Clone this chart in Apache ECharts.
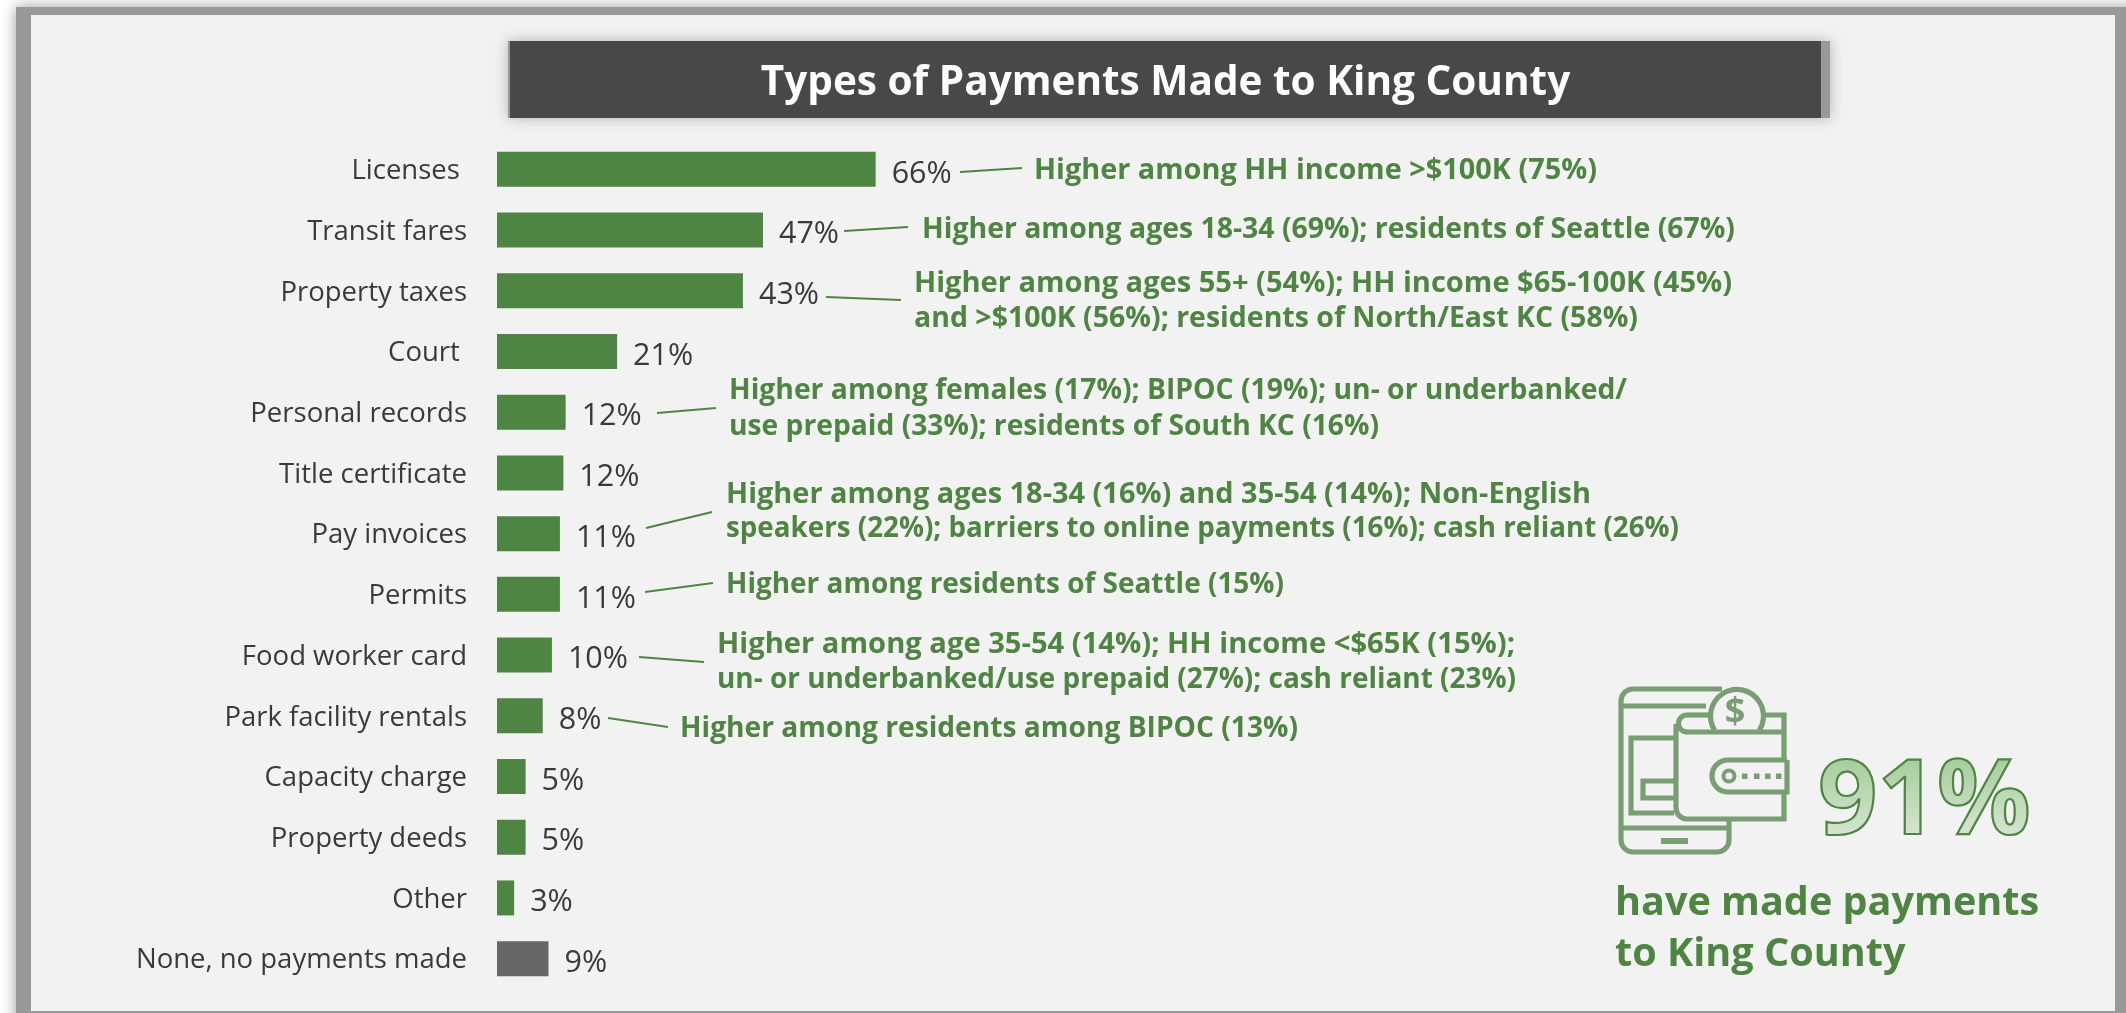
<!DOCTYPE html>
<html>
<head>
<meta charset="utf-8">
<title>Types of Payments Made to King County</title>
<style>html,body{margin:0;padding:0;background:#fff;overflow:hidden}#chart{width:2126px;height:1013px}</style>
<script src="https://cdn.jsdelivr.net/npm/echarts@6/dist/echarts.min.js"></script>
</head>
<body>
<div id="chart"></div>
<script>
const categories = ['Licenses ','Transit fares','Property taxes','Court ','Personal records','Title certificate','Pay invoices','Permits','Food worker card','Park facility rentals','Capacity charge','Property deeds','Other','None, no payments made'];
const values = [66.2,46.5,43,21,12,11.6,11,11,9.6,8,5,5,3,9];
const titleText = 'Types of Payments Made to King County';
const bigNumber = '91%';
const bigCaption = ['have made payments','to King County'];
const calloutLines = [
 'Higher among HH income >$100K (75%)',
 'Higher among ages 18-34 (69%); residents of Seattle (67%)',
 'Higher among ages 55+ (54%); HH income $65-100K (45%)',
 'and >$100K (56%); residents of North/East KC (58%)',
 'Higher among females (17%); BIPOC (19%); un- or underbanked/',
 'use prepaid (33%); residents of South KC (16%)',
 'Higher among ages 18-34 (16%) and 35-54 (14%); Non-English',
 'speakers (22%); barriers to online payments (16%); cash reliant (26%)',
 'Higher among residents of Seattle (15%)',
 'Higher among age 35-54 (14%); HH income <$65K (15%);',
 'un- or underbanked/use prepaid (27%); cash reliant (23%)',
 'Higher among residents among BIPOC (13%)'
];
const calloutAnchors = [[1034,179],[922,238],[914,292],[914,327],[729,399],[729,435],[726,503],[726,537],[726,593],[717,653],[717,688],[680,737]];
const calloutRightEdges = [1597,1735,1732,1638,1627,1379,1591,1679,1284,1515,1516,1298];
const leaders = [[960,172,1022,168],[844,231,908,227],[826,297,901,300],[657,413,716,408],[646,528,712,512],[645,592,713,583],[639,657,704,662],[608,718,668,727]];

const GREEN='#4E8542', ICON='#7A9E74', FONT='"Open Sans", "Noto Sans", sans-serif';
const meter=document.createElement('canvas').getContext('2d');
const g=[];
// frame
g.push({type:'rect',z:-10,shape:{x:16,y:7,width:2200,height:1100},style:{fill:'#999',shadowBlur:14,shadowColor:'#999'}});
g.push({type:'rect',z:-9,shape:{x:31,y:15,width:2084,height:996},style:{fill:'#f2f2f2'}});
// title band
g.push({type:'rect',z:-8,shape:{x:508,y:41,width:1322,height:77},style:{fill:'#999',shadowBlur:12,shadowColor:'rgba(150,150,150,.7)'}});
g.push({type:'rect',z:-7,shape:{x:510,y:41,width:1311,height:77},style:{fill:'#484848'}});
function txt(s,x,base,size,weight,fill,align,extra){
  return Object.assign({type:'text',z:5,x:x,y:base-0.28*size,style:Object.assign({text:s,font:weight+' '+size+'px '+FONT,fill:fill,align:align||'left',verticalAlign:'middle'},extra||{})});
}
g.push(txt(titleText,1165.5,95,40.5,700,'#fff','center'));
calloutLines.forEach((s,i)=>{
  const el=txt(s,calloutAnchors[i][0],calloutAnchors[i][1],28.5,700,GREEN);
  meter.font=el.style.font;
  el.scaleX=(calloutRightEdges[i]-calloutAnchors[i][0])/meter.measureText(s).width;
  g.push(el);
});
leaders.forEach(l=>g.push({type:'line',z:4,shape:{x1:l[0],y1:l[1],x2:l[2],y2:l[3]},style:{stroke:GREEN,lineWidth:2}}));
// big number: flat fill, a fade towards the panel colour, then the outline on top
g.push(txt(bigNumber,1818,833,104,700,'#A3CC98','left'));
g.push({type:'rect',z:6,shape:{x:1810,y:753,width:230,height:84},style:{fill:{type:'linear',x:0,y:0,x2:0,y2:1,colorStops:[{offset:0,color:'rgba(242,242,242,0)'},{offset:1,color:'rgba(242,242,242,0.65)'}]}}});
const outline=txt(bigNumber,1818,833,104,700,'rgba(0,0,0,0)','left',{stroke:GREEN,lineWidth:2.2});
outline.z=7; g.push(outline);
g.push(txt(bigCaption[0],1615,915,39.6,700,GREEN));
g.push(txt(bigCaption[1],1615,966,39.6,700,GREEN));
// icon
const st={stroke:ICON,lineWidth:5.2,fill:null};
const pl=(pts)=>({type:'polyline',shape:{points:pts},style:st});
const ar=(cx,cy,r,a,b)=>({type:'arc',shape:{cx:cx,cy:cy,r:r,startAngle:a*Math.PI,endAngle:b*Math.PI,clockwise:true},style:st});
const sq=(x,y,w,h)=>({type:'rect',shape:{x:x,y:y,width:w,height:h},style:{fill:ICON}});
g.push({type:'group',x:1609,y:680,z:6,children:[
  pl([[113,9],[24,9]]),ar(24,21,12,1,1.5),pl([[12,21],[12,160]]),ar(24,160,12,.5,1),pl([[24,172],[108,172]]),ar(108,160,12,0,.5),pl([[120,160],[120,141]]),
  pl([[12,26],[97,26]]),pl([[12,148],[120,148]]),sq(52,158,27,6),
  pl([[65,58],[22,58],[22,133],[65,133]]),pl([[65,101],[34,101],[34,118],[65,118]]),
  ar(78,43.5,8.5,.5,1.5),pl([[78,35],[100,35]]),pl([[153,35],[175,35],[175,80]]),pl([[175,112],[175,139],[78,139]]),ar(78,128,11,.5,1),
  pl([[67,44],[67,128]]),pl([[76,52],[175,52]]),
  pl([[178,80],[119,80]]),ar(119,96,16,.5,1.5),pl([[119,112],[178,112],[178,80]]),
  {type:'circle',shape:{cx:120,cy:96,r:5.5},style:{stroke:ICON,lineWidth:4,fill:null}},
  sq(133,93.5,5.5,5.5),sq(145,93.5,5.5,5.5),sq(156,93.5,5.5,5.5),sq(167,93.5,5.5,5.5),
  ar(128,36,26.5,.82,2.18),
  {type:'text',x:126,y:33,style:{text:'$',font:'700 36px '+FONT,fill:ICON,align:'center',verticalAlign:'middle'}}
]});

const chart=echarts.init(document.getElementById('chart'));
chart.setOption({
  animation:false,
  backgroundColor:'#fff',
  grid:{left:497,top:139,width:572,height:850},
  xAxis:{type:'value',min:0,max:100,show:false},
  yAxis:{type:'category',inverse:true,data:categories,axisLine:{show:false},axisTick:{show:false},splitLine:{show:false},
    axisLabel:{margin:30,verticalAlign:'top',lineHeight:4,fontFamily:FONT,fontSize:27.5,color:'#3a3a3a'}},
  series:[{type:'bar',barWidth:35,silent:true,
    data:values.map((v,i)=>({value:v,itemStyle:{color:i===values.length-1?'#666666':GREEN}})),
    label:{show:true,position:'right',distance:16,offset:[0,4.5],formatter:p=>Math.round(p.value)+'%',fontFamily:FONT,fontSize:30.5,color:'#3a3a3a'}}],
  graphic:{elements:g}
});
</script>
</body>
</html>
